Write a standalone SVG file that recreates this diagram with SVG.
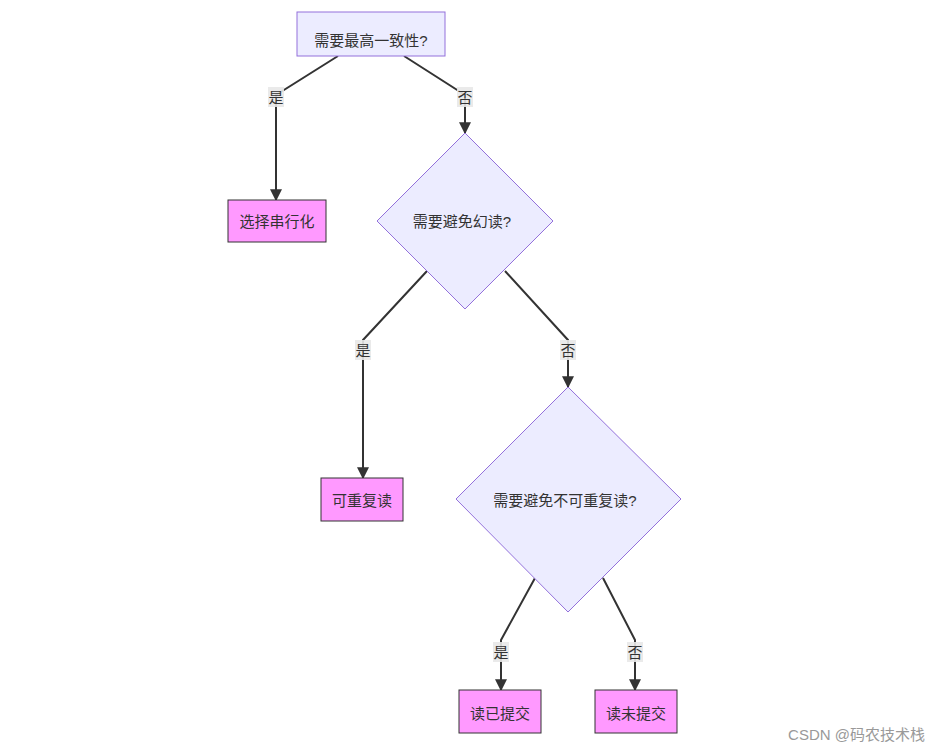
<svg xmlns="http://www.w3.org/2000/svg" width="929" height="749" viewBox="0 0 929 749">
<style>
text{font-family:"Liberation Sans","Noto Sans CJK SC",sans-serif;font-size:15px;fill:#333;text-anchor:middle;dominant-baseline:central}
.q{fill:#ECECFF;stroke:#9370DB;stroke-width:1}
.r{fill:#ff99ff;stroke:#333;stroke-width:1}
.e{fill:none;stroke:#333;stroke-width:2;marker-end:url(#a)}
.lb{fill:#e8e8e8;opacity:0.9}
</style>
<defs><marker id="a" viewBox="0 0 10 10" refX="9" refY="5" markerWidth="6" markerHeight="6" orient="auto"><path d="M0,0L10,5L0,10z" fill="#333"/></marker></defs>
<rect width="929" height="749" fill="#fff"/>
<g id="connectors">
<path class="e" d="M338,56L276,95L276,200"/>
<path class="e" d="M404,56L465,95L465,133"/>
<path class="e" d="M427,271L363,340L363,478"/>
<path class="e" d="M505,271L568,340L568,387"/>
<path class="e" d="M535,578L501,640L501,690"/>
<path class="e" d="M603,578L635,640L635,690"/>
<rect class="lb" x="268" y="87" width="16" height="20"/><text x="276" y="97">是</text>
<rect class="lb" x="457" y="87" width="16" height="20"/><text x="465" y="97">否</text>
<rect class="lb" x="355" y="340" width="16" height="20"/><text x="363" y="350">是</text>
<rect class="lb" x="560" y="340" width="16" height="20"/><text x="568" y="350">否</text>
<rect class="lb" x="493" y="642" width="16" height="20"/><text x="501" y="652">是</text>
<rect class="lb" x="627" y="642" width="16" height="20"/><text x="635" y="652">否</text>
</g>
<g id="n1"><rect class="q" x="297" y="12" width="148" height="44"/><text x="371" y="40">需要最高一致性?</text></g>
<g id="n2"><rect class="r" x="228" y="200" width="98" height="42"/><text x="277" y="221">选择串行化</text></g>
<g id="n3"><path class="q" d="M465,133L553,221L465,309L377,221z"/><text x="462" y="221">需要避免幻读?</text></g>
<g id="n4"><rect class="r" x="321" y="478" width="82" height="43"/><text x="362" y="500">可重复读</text></g>
<g id="n5"><path class="q" d="M568,387L681,499L568,612L456,499z"/><text x="565" y="500">需要避免不可重复读?</text></g>
<g id="n6"><rect class="r" x="459" y="690" width="82" height="43"/><text x="500" y="713">读已提交</text></g>
<g id="n7"><rect class="r" x="595" y="690" width="82" height="43"/><text x="636" y="713">读未提交</text></g>
<text x="925" y="734" style="text-anchor:end;fill:#999;font-size:15px">CSDN @码农技术栈</text>
</svg>
